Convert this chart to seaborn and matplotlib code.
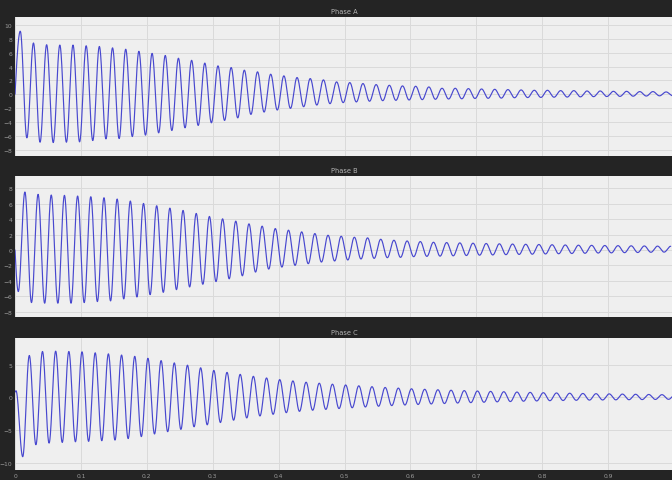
import numpy as np
import pandas as pd
import seaborn as sns
import matplotlib as mpl
import matplotlib.pyplot as plt

mpl.use('Agg')

# values, one extremum per half cycle (50 Hz)
period = 0.02
titles = ["Phase A", "Phase B", "Phase C"]

a_peaks = [9.1, 7.4, 7.15, 7.1, 7.1, 7.0, 6.9, 6.7, 6.5, 6.2, 5.9, 5.6, 5.2, 4.9, 4.5, 4.1,
           3.86, 3.48, 3.24, 2.90, 2.66, 2.42, 2.27, 2.08, 1.79, 1.69, 1.55, 1.40, 1.30, 1.21, 1.16, 1.06,
           0.87, 0.87, 0.82, 0.77, 0.72, 0.68, 0.63, 0.58, 0.58, 0.53, 0.53, 0.48, 0.48, 0.43, 0.43, 0.39, 0.39, 0.34]
a_troughs = [-6.28, -6.91, -6.96, -6.91, -6.86, -6.67, -6.43, -6.38, -6.09, -5.89, -5.56, -5.22, -4.83, -4.49, -4.11, -3.77,
             -3.4, -2.9, -2.56, -2.27, -2.03, -1.79, -1.55, -1.35, -1.2, -1.1, -1.0, -0.92, -0.87, -0.82, -0.77, -0.72,
             -0.68, -0.65, -0.6, -0.58, -0.55, -0.5, -0.47, -0.45, -0.42, -0.4, -0.37, -0.34, -0.32, -0.3, -0.27, -0.25, -0.22, -0.2]

b_peaks = [7.52, 7.22, 7.13, 7.09, 7.0, 6.91, 6.78, 6.61, 6.35, 6.04, 5.74, 5.43, 5.13, 4.74, 4.35, 4.04,
           3.74, 3.39, 3.09, 2.78, 2.57, 2.35, 2.13, 1.91, 1.78, 1.65, 1.57, 1.39, 1.26, 1.17, 1.09, 1.0,
           0.96, 0.92, 0.88, 0.84, 0.8, 0.77, 0.74, 0.71, 0.68, 0.65, 0.62, 0.6, 0.58, 0.56, 0.54, 0.52, 0.5, 0.48]
b_troughs = [-5.39, -6.83, -6.91, -6.91, -6.91, -6.83, -6.70, -6.61, -6.35, -6.1, -5.8, -5.5, -5.15, -4.8, -4.45, -4.1, -3.74,
             -3.35, -2.87, -2.48, -2.22, -2.0, -1.78, -1.57, -1.43, -1.3, -1.17, -1.09, -1.0, -0.96, -0.87, -0.83,
             -0.8, -0.76, -0.72, -0.68, -0.65, -0.61, -0.58, -0.55, -0.52, -0.49, -0.46, -0.43, -0.4, -0.38, -0.35, -0.33, -0.3, -0.28]

c_peaks = [6.38, 6.99, 7.04, 6.99, 6.94, 6.79, 6.63, 6.45, 6.25, 5.95, 5.6, 5.25, 4.9, 4.5, 4.1, 3.8, 3.5, 3.2,
           2.95, 2.7, 2.5, 2.3, 2.15, 2.0, 1.88, 1.75, 1.62, 1.5, 1.4, 1.3, 1.22, 1.15, 1.08, 1.02, 0.96, 0.9,
           0.85, 0.8, 0.75, 0.7, 0.66, 0.62, 0.58, 0.55, 0.52, 0.49, 0.46, 0.43, 0.4, 0.38]
c_troughs = [-9.07, -7.24, -6.99, -6.89, -6.79, -6.73, -6.63, -6.53, -6.3, -6.0, -5.6, -5.25, -4.9, -4.5, -4.2,
             -3.85, -3.5, -3.15, -2.85, -2.6, -2.35, -2.15, -1.98, -1.85, -1.72, -1.6, -1.48, -1.37, -1.27, -1.18,
             -1.1, -1.02, -0.95, -0.88, -0.82, -0.76, -0.7, -0.65, -0.6, -0.56, -0.52, -0.49, -0.46, -0.43, -0.41,
             -0.39, -0.37, -0.35, -0.33, -0.31]

# (lead-in points, time of first extremum, first extremum is a peak?)
starts = [([(0.0, 0.0)], 0.008, True),
          ([(0.0, 0.0)], 0.005, False),
          ([(0.0, 0.8), (0.0015, 1.0)], 0.0117, False)]
yticks = [list(range(-8, 11, 2)), list(range(-8, 9, 2)), [-10, -5, 0, 5]]
ylims = [(-8.9, 11.15), (-8.7, 9.6), (-11.1, 9.05)]
xticks = [0, 0.1, 0.2, 0.3, 0.4, 0.5, 0.6, 0.7, 0.8, 0.9]


def build_wave(lead, t0, peak_first, peaks, troughs):
    first, second = (peaks, troughs) if peak_first else (troughs, peaks)
    ext_v = [v for pair in zip(first, second) for v in pair]
    ext_t = [t0 + i * period / 2 for i in range(len(ext_v))]
    knots_t = [p[0] for p in lead] + ext_t
    knots_v = [p[1] for p in lead] + ext_v
    ts, vs = [], []
    for i in range(len(knots_t) - 1):
        u = np.linspace(0, 1, 40, endpoint=False)
        if i == 0 and len(lead) == 1:
            shape = np.sin(u * np.pi / 2)
        else:
            shape = (1 - np.cos(u * np.pi)) / 2
        ts.append(knots_t[i] + u * (knots_t[i + 1] - knots_t[i]))
        vs.append(knots_v[i] + shape * (knots_v[i + 1] - knots_v[i]))
    ts.append([knots_t[-1]])
    vs.append([knots_v[-1]])
    return pd.DataFrame({'t': np.concatenate(ts), 'v': np.concatenate(vs)})


waves = [build_wave(*starts[0], a_peaks, a_troughs),
         build_wave(*starts[1], b_peaks, b_troughs),
         build_wave(*starts[2], c_peaks, c_troughs)]

sns.set_style('white')
W, H = 672, 481
fig = plt.figure(figsize=(W / 100, H / 100), dpi=100, facecolor='#242424')

# axes boxes in pixels: (top, bottom)
boxes = [(18, 157), (177, 318), (339, 471)]
left_px, right_px = 15, 674

for i, df in enumerate(waves):
    top, bot = boxes[i]
    ax = fig.add_axes([left_px / W, 1 - bot / H, (right_px - left_px) / W, (bot - top) / H])
    ax.set_facecolor('#efefef')
    sns.lineplot(data=df, x='t', y='v', ax=ax, color='#4848cf', linewidth=0.85,
                 estimator=None, sort=False)
    ax.set_xlim(0, 1)
    ax.set_ylim(*ylims[i])
    ax.set_yticks(yticks[i])
    ax.set_xticks(xticks)
    ax.grid(True, color='#dadada', linewidth=0.7)
    ax.set_axisbelow(True)
    for s in ax.spines.values():
        s.set_visible(False)
    ax.tick_params(length=0, labelsize=4.3, labelcolor='#9a9a9a', pad=2)
    ax.set_xlabel('')
    ax.set_ylabel('')
    if i < 2:
        ax.set_xticklabels([])
    else:
        ax.set_xticklabels(['0' if x == 0 else f'{x:g}' for x in xticks])
    ax.set_title(titles[i], fontsize=4.8, color='#b5b5b5', pad=3)

fig.savefig('out.png', dpi=100, facecolor=fig.get_facecolor())
